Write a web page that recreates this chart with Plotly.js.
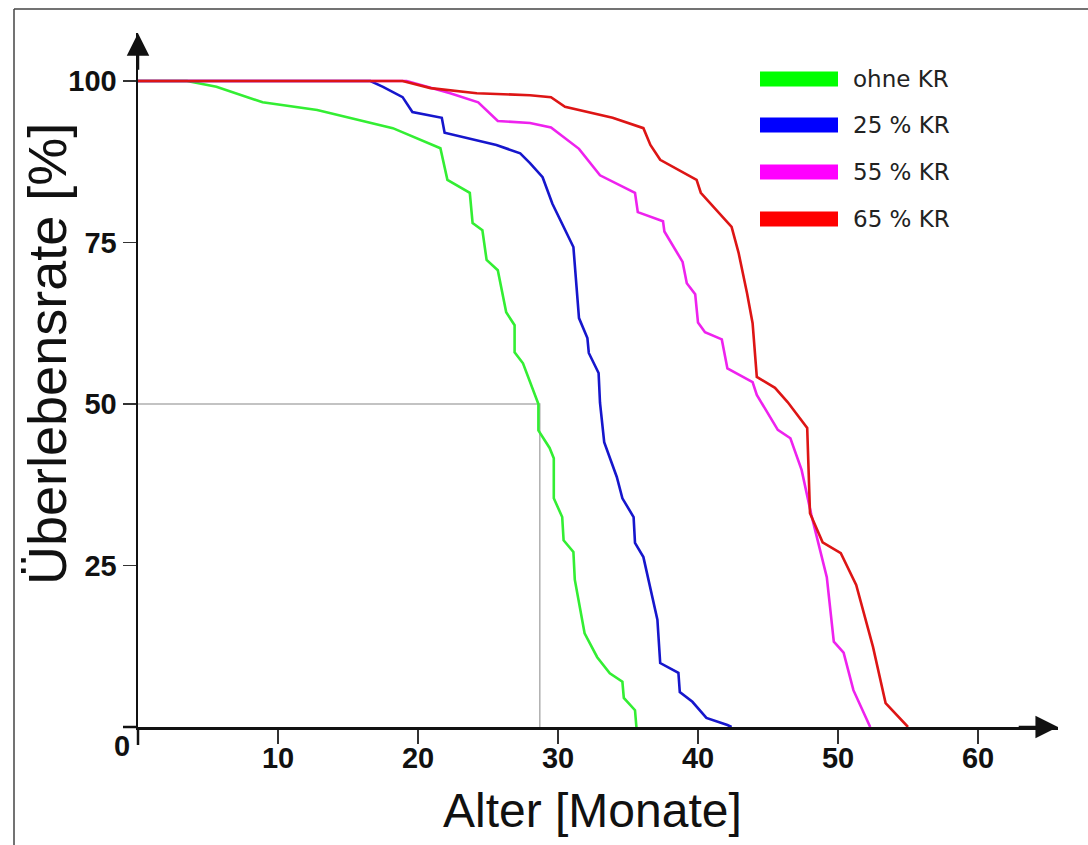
<!DOCTYPE html>
<html>
<head>
<meta charset="utf-8">
<script src="https://cdn.plot.ly/plotly-3.0.1.min.js"></script>
<style>html,body{margin:0;padding:0;background:#fff;}#chart{width:1088px;height:845px;}</style>
</head>
<body>
<div id="chart"></div>
<script>
// ---- data ----
const seriesNames = ["ohne KR", "25 % KR", "55 % KR", "65 % KR"];
const seriesColors = ["#33ee33", "#1616cc", "#ee22ee", "#dd1515"];
const swatchColors = ["#00ff00", "#0000ff", "#ff00ff", "#ff0000"];

const ohneX = [0, 3.5, 5.6, 8.9, 12.8, 18.2, 21.6, 22.1, 23.7, 23.9, 24.6, 24.9, 25.7, 26.3, 26.9, 26.9, 27.5, 28.6, 28.6, 29.4, 29.7, 29.7, 30.3, 30.4, 31.1, 31.2, 31.9, 32.8, 33.7, 34.6, 34.7, 35.5, 35.6];
const ohneY = [100, 100, 99.1, 96.7, 95.5, 92.7, 89.6, 84.7, 82.7, 78, 76.9, 72.3, 70.7, 64.2, 62.2, 58, 56.3, 50, 45.9, 43.2, 41.6, 35.4, 32.5, 28.9, 27.1, 22.8, 14.5, 10.8, 8.3, 7, 4.5, 2.6, 0];

const kr25X = [0, 16.6, 17.5, 18.9, 19.6, 21.7, 21.9, 25.6, 27.3, 28.0, 28.9, 29.6, 31.1, 31.5, 32.1, 32.2, 32.9, 33.0, 33.3, 34.2, 34.6, 35.4, 35.5, 36.1, 37.1, 37.3, 38.6, 38.7, 39.6, 40.6, 42.1, 42.4];
const kr25Y = [100, 100, 99.1, 97.5, 95.2, 94.3, 92, 90.1, 88.8, 87.3, 85.1, 81, 74.3, 63.3, 60.2, 57.9, 54.8, 50.2, 44.1, 38.7, 35.4, 32.5, 28.5, 26.3, 16.6, 9.9, 8.4, 5.4, 3.9, 1.4, 0.3, 0];

const kr55X = [0, 19.2, 22.3, 24.3, 25.7, 28.0, 29.5, 31.5, 33.0, 35.5, 35.7, 37.5, 37.6, 38.9, 39.2, 39.8, 40.0, 40.5, 41.7, 42.1, 43.9, 44.2, 45.7, 46.6, 47.4, 48.1, 49.2, 49.7, 50.4, 51.1, 52.3];
const kr55Y = [100, 100, 98.1, 96.7, 93.8, 93.5, 92.8, 89.5, 85.4, 82.7, 79.7, 78.3, 76.7, 72, 68.7, 67.0, 62.6, 61.1, 60, 55.5, 53.4, 51.4, 46, 44.7, 39.8, 32.8, 23.2, 13.2, 11.5, 5.7, 0];

const kr65X = [0, 18.9, 20.9, 24.2, 28.0, 29.5, 30.5, 33.9, 36.1, 36.6, 37.3, 38.7, 39.9, 40.2, 42.4, 42.9, 43.5, 43.9, 44.2, 45.5, 46.4, 47.8, 48.0, 48.9, 50.2, 51.3, 52.5, 53.4, 55.0];
const kr65Y = [100, 100, 98.9, 98.1, 97.8, 97.5, 96, 94.3, 92.7, 90.1, 87.8, 86.2, 84.7, 82.7, 77.4, 73.4, 67.2, 62.5, 54.2, 52.5, 50.3, 46.3, 33.1, 28.6, 26.9, 22, 12.4, 3.7, 0];

// median guide (50 % survival of "ohne KR")
const medianX = [0, 28.7, 28.7];
const medianY = [50, 50, 0];

const xTickVals = [10, 20, 30, 40, 50, 60];
const yTickVals = [25, 50, 75, 100];

const xTitle = "Alter [Monate]";
const yTitle = "Überlebensrate [%]";

// ---- chart ----
const allX = [ohneX, kr25X, kr55X, kr65X];
const allY = [ohneY, kr25Y, kr55Y, kr65Y];

const traces = [{
  x: medianX, y: medianY, mode: "lines", type: "scatter",
  line: {color: "#b0b0b0", width: 1.5}, hoverinfo: "skip", showlegend: false
}];
for (let i = 0; i < allX.length; i++) {
  traces.push({
    x: allX[i], y: allY[i], name: seriesNames[i], mode: "lines", type: "scatter",
    line: {color: seriesColors[i], width: 2.6}, showlegend: false, cliponaxis: false
  });
}

const L = 138, R = 1058, T = 33, B = 727;
const W = R - L, H = B - T;
const px = v => (v - L) / W;
const py = v => (B - v) / H;

const tickFont = {family: "Liberation Sans, Arial, sans-serif", size: 29, weight: 700, color: "#111"};

const shapes = [
  // axis extensions
  {type: "line", xref: "paper", yref: "paper", x0: px(123), x1: px(138), y0: 0, y1: 0, line: {color: "#111", width: 2.5}},
  {type: "line", xref: "paper", yref: "paper", x0: 0, x1: 0, y0: 0, y1: py(745), line: {color: "#111", width: 2.5}},
  // outer frame
  {type: "line", xref: "paper", yref: "paper", x0: px(14), x1: px(14), y0: py(9), y1: py(845), line: {color: "#444", width: 1.5}},
  {type: "line", xref: "paper", yref: "paper", x0: px(14), x1: px(1088), y0: py(9), y1: py(9), line: {color: "#444", width: 1.5}}
];

const annotations = [
  {x: 65.71, y: 0, ax: 62.8, ay: 0, xref: "x", yref: "y", axref: "x", ayref: "y", text: "", showarrow: true, arrowhead: 2, arrowsize: 1.8, arrowwidth: 2.5, arrowcolor: "#111"},
  {x: 0, y: 107.4, ax: 0, ay: 101.5, xref: "x", yref: "y", axref: "x", ayref: "y", text: "", showarrow: true, arrowhead: 2, arrowsize: 1.8, arrowwidth: 2.5, arrowcolor: "#111"},
  {x: px(122), y: py(746), xref: "paper", yref: "paper", text: "0", showarrow: false, xanchor: "center", yanchor: "middle", font: tickFont},
  {x: px(592), y: py(811), xref: "paper", yref: "paper", text: xTitle, showarrow: false, xanchor: "center", yanchor: "middle",
   font: {family: "Liberation Sans, Arial, sans-serif", size: 48, color: "#111"}},
  {x: px(47), y: py(354), xref: "paper", yref: "paper", text: yTitle, showarrow: false, textangle: -90, xanchor: "center", yanchor: "middle",
   font: {family: "Liberation Sans, Arial, sans-serif", size: 54, color: "#111"}}
];

const legendRows = [79, 125, 172, 219];
for (let i = 0; i < seriesNames.length; i++) {
  shapes.push({type: "rect", xref: "paper", yref: "paper", x0: px(760), x1: px(838), y0: py(legendRows[i] + 7.5), y1: py(legendRows[i] - 7.5),
    fillcolor: swatchColors[i], line: {width: 0}});
  annotations.push({x: px(851), y: py(legendRows[i]), xref: "paper", yref: "paper", text: seriesNames[i], showarrow: false,
    xanchor: "left", yanchor: "middle", font: {family: "DejaVu Sans, sans-serif", size: 23, color: "#222"}});
}

const layout = {
  width: 1088, height: 845,
  margin: {l: L, r: 1088 - R, t: T, b: 845 - B, pad: 0},
  paper_bgcolor: "#fff", plot_bgcolor: "#fff",
  showlegend: false,
  xaxis: {
    range: [0, W / 14], tickvals: xTickVals, ticktext: xTickVals.map(String),
    showline: true, linecolor: "#111", linewidth: 2.5, showgrid: false, zeroline: false,
    ticks: "outside", ticklen: 14, tickwidth: 1.5, tickcolor: "#333", tickfont: tickFont,
    ticklabelstandoff: -10, fixedrange: true
  },
  yaxis: {
    range: [0, H / 6.46], tickvals: yTickVals, ticktext: yTickVals.map(String),
    showline: true, linecolor: "#111", linewidth: 2.5, showgrid: false, zeroline: false,
    ticks: "outside", ticklen: 13, tickwidth: 1.5, tickcolor: "#333", tickfont: tickFont, fixedrange: true
  },
  shapes: shapes,
  annotations: annotations
};

Plotly.newPlot("chart", traces, layout, {displayModeBar: false, staticPlot: true});
</script>
</body>
</html>
